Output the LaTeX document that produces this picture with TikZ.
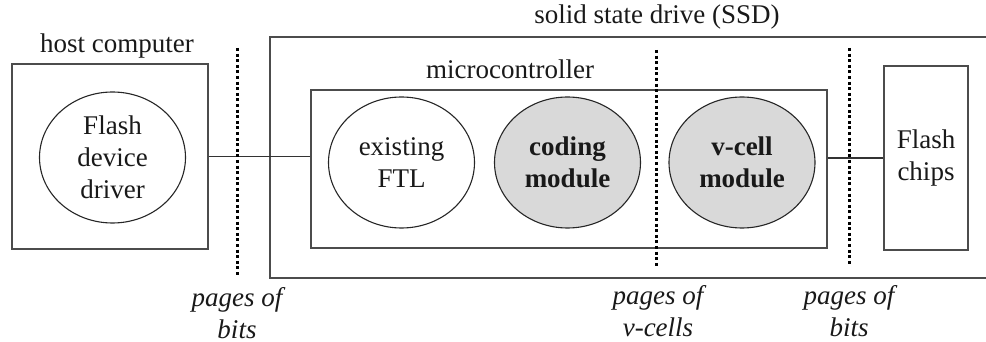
\documentclass[tikz,border=0pt]{standalone}
\usepackage{fontspec}
\setmainfont{Liberation Serif}
\usetikzlibrary{shapes.geometric}
\begin{document}
\begin{tikzpicture}[x=1pt,y=-1pt,
  every node/.style={font=\fontsize{27}{32}\selectfont, text=black!90},
  box/.style={draw=black!70, line width=1.6pt, rectangle, inner sep=0pt},
  blob/.style={draw=black!85, line width=1.1pt, ellipse, inner sep=0pt,
    minimum width=146pt, minimum height=131pt, align=center},
  coded/.style={blob, fill=black!15, font=\fontsize{27}{32}\selectfont\bfseries},
  link/.style={draw=black!80, line width=1.8pt},
  border/.style={draw=black, line width=3pt, dash pattern=on 3pt off 2.6pt},
  tag/.style={align=center, font=\fontsize{27}{32}\selectfont\itshape}]
\clip (0,0) rectangle (986,342);
\useasboundingbox (0,0) rectangle (986,342);

% host side
\node[box, minimum width=196pt, minimum height=185pt] (host) at (110,156.5) {};
\node (hostlbl) at (117,46) {host computer};
\node[blob] (driver) at (112.5,157.5) {Flash\\device\\driver};

% solid state drive, running off the right edge
\node[box, minimum width=750pt, minimum height=241pt, anchor=north west] (ssd) at (269,36) {};
\node (ssdlbl) at (657,17) {solid state drive (SSD)};

% microcontroller and its modules
\node[box, minimum width=516pt, minimum height=158pt, anchor=north west] (mc) at (310,89) {};
\node (mclbl) at (510,69) {microcontroller};
\node[blob] (ftl) at (401.5,162.5) {existing\\FTL};
\node[coded] (coding) at (567.5,162.5) {coding\\module};
\node[coded] (vcell) at (742,162.5) {v-cell\\module};

% flash chips
\node[box, minimum width=84pt, minimum height=184pt, align=center] (chips) at (926,158) {Flash\\chips};

% connectors
\draw[link] (host.east) -- (host.east -| mc.west);
\draw[link] (mc.east |- chips.west) -- (chips.west);

% interface borders
\coordinate (b1t) at (237,48); \coordinate (b1b) at (237,276);
\coordinate (b2t) at (656,50); \coordinate (b2b) at (656,266);
\coordinate (b3t) at (849,48); \coordinate (b3b) at (849,264);
\draw[border] (b1t) -- (b1b);
\draw[border] (b2t) -- (b2b);
\draw[border] (b3t) -- (b3b);

% data units crossing each border
\node[tag] (t1) at (237,313) {pages of\\bits};
\node[tag] (t2) at (658,311) {pages of\\v-cells};
\node[tag] (t3) at (849,311) {pages of\\bits};
\end{tikzpicture}
\end{document}
